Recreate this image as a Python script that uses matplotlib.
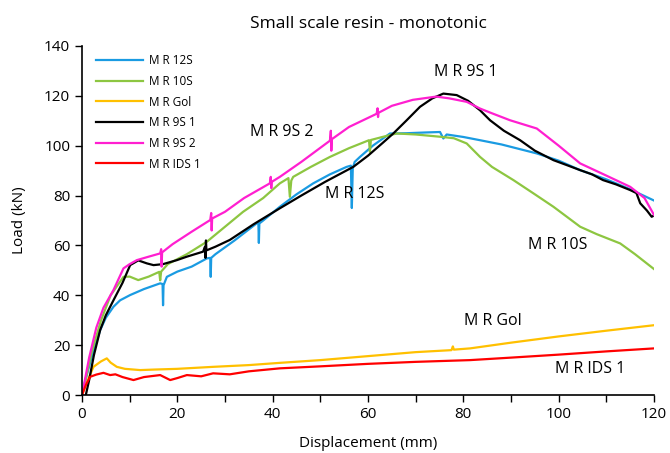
import matplotlib.pyplot as plt

plt.rcParams['font.family'] = ['Open Sans', 'DejaVu Sans']

# series
x_12s = [0, 1, 2, 3.8, 5, 6.6, 8, 10.1, 13, 16.4, 16.9, 17.0, 17.1, 17.8, 20, 23, 26.2, 26.9, 27.0, 27.1, 28, 32,
         36.6, 37.0, 37.1, 37.2, 38, 41.5, 45, 48.5, 52, 55.5, 56.4, 56.6, 56.8, 57.2, 58.3, 61, 64.6, 68, 72,
         75.1, 75.8, 76.5, 80, 83.5, 88, 95.4, 100, 104.5, 110, 115, 120]
y_12s = [0, 8, 15, 26, 31, 35.4, 38, 40.1, 42.5, 44.8, 44.5, 36, 44, 47.4, 49.5, 51.5, 54.8, 55, 47.4, 55, 56.5, 62,
         68.8, 69, 61, 68.8, 70, 75.5, 80.5, 84.9, 88.5, 91.5, 92, 75, 91, 93.5, 95.5, 100, 104.9, 105, 105.3,
         105.5, 102.9, 104.5, 103.5, 102.2, 100.5, 96.9, 94, 90.2, 86.5, 82.5, 78]

x_10s = [0, 2, 4, 6, 8.7, 10, 11.8, 14, 16.2, 16.4, 16.6, 18, 22, 26.2, 30, 33.8, 38, 41.5, 43.3, 43.6, 43.9, 44.3,
         48, 52, 56, 60.2, 60.4, 60.6, 63, 66, 70, 75.1, 78, 80.7, 83.5, 86, 90.5, 95, 98.9, 104.5, 108, 112.9,
         116, 120]
y_10s = [0, 17, 30, 40, 47.4, 47.5, 46.1, 47.5, 49.4, 46, 49.5, 52.5, 56.5, 61.5, 67.5, 73.5, 79, 84.9, 87, 79.5,
         86, 87.5, 91.5, 95.5, 99, 102.2, 97.5, 102.3, 103.5, 104.9, 104.5, 103.6, 103, 100.9, 95.5, 91.5, 86.2,
         80.5, 75.5, 67.5, 64.5, 60.8, 56.5, 50.5]

x_gol = [0, 1, 2.4, 4, 5.2, 6, 7.3, 9, 12.2, 15, 20, 27.5, 35, 41.5, 50, 60, 70, 77.5, 77.8, 78, 81.4, 90, 100,
         110, 120]
y_gol = [0, 5, 11.3, 13.5, 14.7, 13, 11.3, 10.5, 10, 10.2, 10.5, 11.3, 12, 12.9, 14, 15.6, 17.2, 18, 19.5, 18.2,
         18.7, 21, 23.5, 25.8, 28]

x_9s1 = [0.8, 1.5, 2.5, 3.8, 5, 6.6, 8.5, 10.1, 11.8, 13.6, 15, 17, 19.9, 22, 25.4, 25.8, 25.9, 26.0, 26.1, 28, 31,
         36, 41.5, 46, 51, 56.9, 60, 63, 65.3, 68, 70.9, 73.5, 75.8, 78.6, 81, 83.5, 85.6, 88.5, 91.9, 95, 98.9,
         102, 104.5, 107, 109.3, 112, 115, 116.3, 117.1, 118.5, 119.5, 120]
y_9s1 = [0, 6, 16, 26, 32, 38, 45, 52.1, 54, 52.8, 52.1, 52.5, 54.1, 55.5, 57.5, 59.5, 55, 62, 58, 59.5, 62.2, 68.5,
         74.9, 80, 85.5, 91.5, 96, 101, 104.9, 110, 115.6, 119, 120.9, 120.3, 118, 114.2, 110.2, 106, 102.2, 98,
         94.2, 92, 90.2, 88.5, 86.2, 84.5, 82.2, 81, 76.9, 74, 71.5, 72]

x_9s2 = [0, 1.5, 3, 4.5, 6.6, 8.7, 10, 11.5, 14, 16.4, 16.6, 16.7, 16.8, 19, 23, 26.9, 27.1, 27.2, 27.3, 30, 34,
         39.4, 39.6, 39.7, 39.8, 41.5, 46, 52, 52.2, 52.3, 52.4, 56, 61.8, 62, 62.1, 62.2, 65, 69.4, 74.3, 77,
         80.7, 83.5, 86, 89.8, 95.4, 100, 104.5, 110, 115, 118, 120]
y_9s2 = [0, 15, 27, 35, 42.1, 50.8, 52.5, 54.1, 55.5, 56.8, 58.5, 51.5, 57.2, 60.5, 65.5, 70.2, 73, 66, 70.8, 73.5,
         79, 84.9, 87.5, 83, 85.5, 87.5, 93.5, 102, 106, 98, 102.6, 107.5, 112.8, 115, 111.5, 113.2, 116, 118.4,
         119.7, 119, 117.6, 114.9, 113, 110.2, 106.9, 100, 92.9, 88, 83.5, 79, 72.2]

x_ids1 = [0, 0.8, 1.7, 3, 4.5, 5.9, 7, 8.5, 10.8, 13, 16.4, 18.5, 20, 22, 25, 27.5, 31, 35, 41.5, 50, 60, 70, 81.4,
          90, 100, 110, 120]
y_ids1 = [0, 4, 7.3, 8.2, 8.9, 8, 8.3, 7.2, 6, 7.2, 8, 6, 6.8, 8, 7.5, 8.7, 8.3, 9.5, 10.7, 11.5, 12.5, 13.3, 14,
          15, 16.2, 17.5, 18.7]

labels = ['M R 12S', 'M R 10S', 'M R Gol', 'M R 9S 1', 'M R 9S 2', 'M R IDS 1']
colors = ['#1a9be2', '#8dc641', '#ffc000', '#000000', '#ff1fd0', '#ff0000']
series = [(x_12s, y_12s), (x_10s, y_10s), (x_gol, y_gol), (x_9s1, y_9s1), (x_9s2, y_9s2), (x_ids1, y_ids1)]

# annotation text and where it sits (data coords)
notes = [('M R 9S 1', 80.4, 129.5), ('M R 9S 2', 42, 105.5), ('M R 12S', 57.3, 80.6),
         ('M R 10S', 99.7, 60), ('M R Gol', 86.2, 29.5), ('M R IDS 1', 106.6, 10.4)]

fig = plt.figure(figsize=(6.7, 4.53), dpi=100)
ax = fig.add_axes([0.1224, 0.128, 0.8538, 0.7705])

for (xs, ys), lab, c in zip(series, labels, colors):
    ax.plot(xs, ys, color=c, lw=1.6, label=lab)

for txt, tx, ty in notes:
    ax.text(tx, ty, txt, fontsize=11.5, ha='center', va='center')

ax.set_xlim(0, 120)
ax.set_ylim(0, 140)
ax.set_xticks(range(0, 121, 20))
ax.set_xticks(range(10, 120, 20), minor=True)
ax.set_yticks(range(0, 141, 20))
ax.tick_params(which='both', direction='out', length=5, width=1, labelsize=11)
for s in ['top', 'right']:
    ax.spines[s].set_visible(False)
ax.spines['left'].set_linewidth(1.2)
ax.spines['bottom'].set_linewidth(1.2)

ax.set_title('Small scale resin - monotonic', fontsize=12.5, pad=13)
ax.set_xlabel('Displacement (mm)', fontsize=11, labelpad=10)
ax.set_ylabel('Load (kN)', fontsize=11, labelpad=12)

ax.legend(loc='upper left', bbox_to_anchor=(0.01, 1.0), frameon=False, fontsize=8.5,
          handlelength=4.0, handletextpad=0.5, labelspacing=0.65, borderaxespad=0.3)

fig.savefig('out.png', dpi=100)
